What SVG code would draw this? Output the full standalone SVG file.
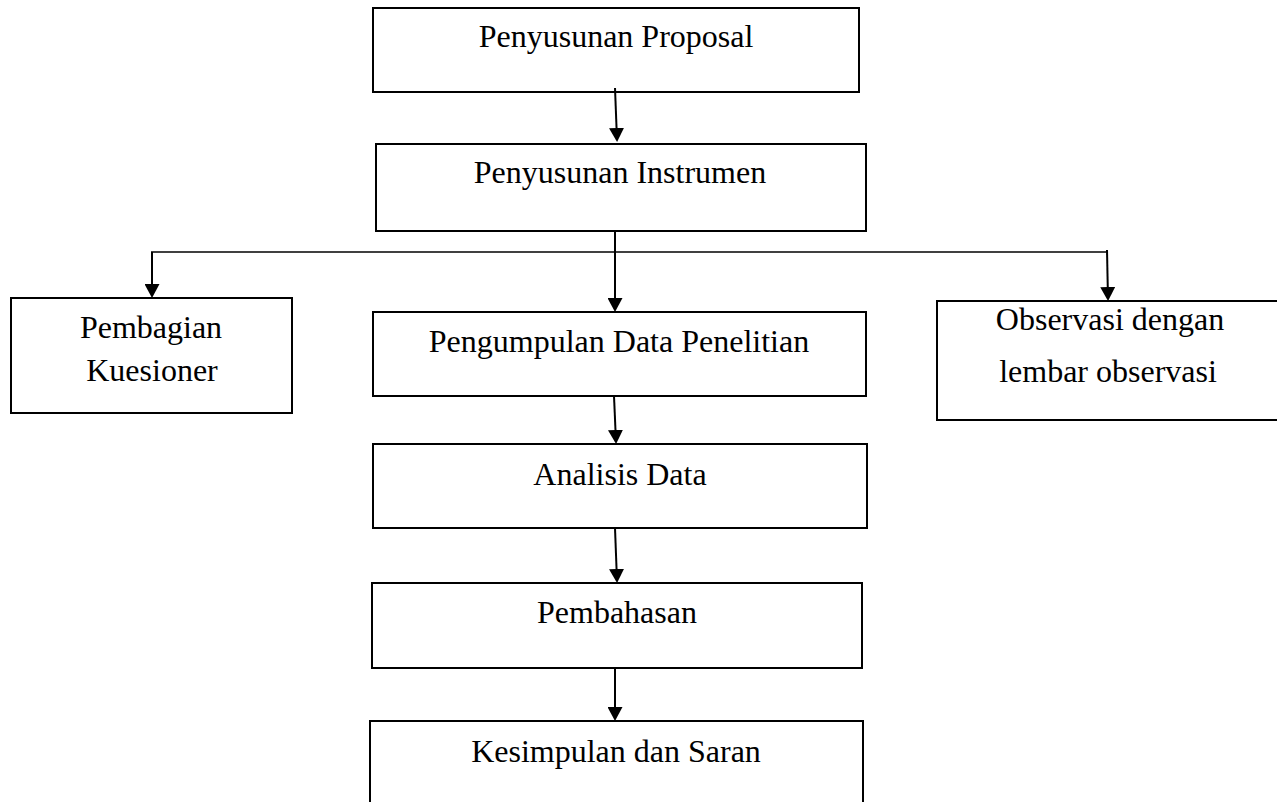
<svg xmlns="http://www.w3.org/2000/svg" width="1277" height="802" viewBox="0 0 1277 802">
<style>
.box{fill:#fff;stroke:#000;stroke-width:2}
.t{font-family:"Liberation Serif","Times New Roman",serif;font-size:32px;fill:#000;text-anchor:middle}
.c{fill:none;stroke:#000;stroke-width:2}
.h{fill:none;stroke:#000;stroke-width:1.3}
</style>
<defs>
<marker id="ah" markerUnits="userSpaceOnUse" viewBox="0 0 14 15" refX="12" refY="7.5" markerWidth="14" markerHeight="15" orient="auto">
<path d="M0,0 L14,7.5 L0,15 z" fill="#000"/>
</marker>
</defs>
<rect width="1277" height="802" fill="#fff"/>
<g id="n1"><rect class="box" x="373" y="8" width="486" height="84"/><text class="t" x="616" y="47">Penyusunan Proposal</text></g>
<g id="n2"><rect class="box" x="376" y="144" width="490" height="87"/><text class="t" x="620" y="183">Penyusunan Instrumen</text></g>
<g id="n3"><rect class="box" x="11" y="298" width="281" height="115"/><text class="t" x="151" y="338">Pembagian</text><text class="t" x="152" y="381">Kuesioner</text></g>
<g id="n4"><rect class="box" x="373" y="312" width="493" height="84"/><text class="t" x="619" y="352">Pengumpulan Data Penelitian</text></g>
<g id="n5"><rect class="box" x="937" y="301" width="360" height="119"/><text class="t" x="1110" y="330">Observasi dengan</text><text class="t" x="1108" y="382">lembar observasi</text></g>
<g id="n6"><rect class="box" x="373" y="444" width="494" height="84"/><text class="t" x="620" y="485">Analisis Data</text></g>
<g id="n7"><rect class="box" x="372" y="583" width="490" height="85"/><text class="t" x="617" y="623">Pembahasan</text></g>
<g id="n8"><rect class="box" x="370" y="721" width="493" height="100"/><text class="t" x="616" y="762">Kesimpulan dan Saran</text></g>
<g id="connectors">
<line class="c" x1="615" y1="88" x2="617" y2="140" marker-end="url(#ah)"/>
<line class="h" x1="151" y1="252" x2="1108" y2="252"/>
<line class="c" x1="152" y1="252" x2="152" y2="296" marker-end="url(#ah)"/>
<line class="c" x1="615" y1="231" x2="615" y2="310" marker-end="url(#ah)"/>
<line class="c" x1="1107" y1="250" x2="1108" y2="299" marker-end="url(#ah)"/>
<line class="c" x1="614" y1="396" x2="616" y2="442" marker-end="url(#ah)"/>
<line class="c" x1="615" y1="528" x2="617" y2="581" marker-end="url(#ah)"/>
<line class="c" x1="615" y1="668" x2="615" y2="719" marker-end="url(#ah)"/>
</g>
</svg>
